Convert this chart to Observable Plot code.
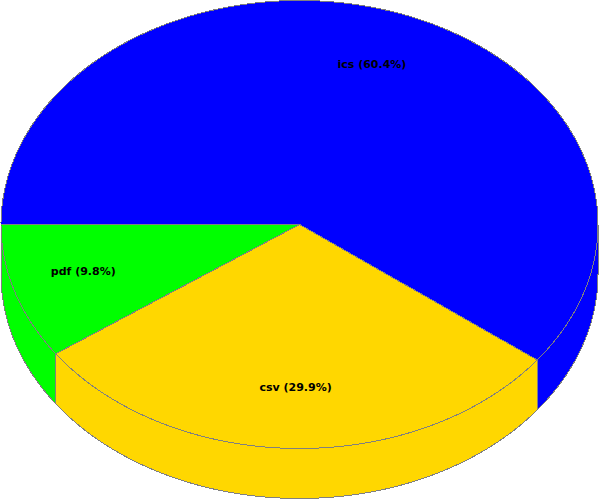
<!DOCTYPE html>
<html>
<head>
<meta charset="utf-8">
<script src="https://cdn.jsdelivr.net/npm/d3@7"></script>
<script src="https://cdn.jsdelivr.net/npm/@observablehq/plot@0.6"></script>
<style>
  html, body { margin: 0; padding: 0; background: #ffffff; }
  #chart svg { display: block; }
</style>
</head>
<body>
<div id="chart"></div>
<script>
// ---- data ----
const categories = ["ics", "csv", "pdf"];
const values = [60.4, 29.9, 9.8];
const sliceColors = ["#0000FF", "#FFD700", "#00FF00"];

// ---- geometry (layout) ----
const W = 600, H = 500;
const cx = 299, cy = 224, rx = 298.5, ry = 224, depth = 50;
const startAngle = 180; // degrees, going clockwise
const outline = "#808080";

const total = d3.sum(values);
const rad = d => d * Math.PI / 180;
const px = (t, r = 1) => cx + rx * r * Math.cos(rad(t));
const py = (t, r = 1, dz = 0) => cy - ry * r * Math.sin(rad(t)) + dz;

// slices: angle from a0 (start) down to a1 (clockwise = decreasing)
let acc = startAngle;
const slices = categories.map((name, i) => {
  const sweep = values[i] / total * 360;
  const s = { name, value: values[i], color: sliceColors[i], a0: acc, a1: acc - sweep };
  acc -= sweep;
  return s;
});

function arcPts(a0, a1, dz = 0) {
  const n = Math.max(2, Math.ceil(Math.abs(a0 - a1) / 0.5));
  const pts = [];
  for (let k = 0; k <= n; k++) {
    const t = a0 + (a1 - a0) * k / n;
    pts.push({ x: px(t), y: py(t, 1, dz) });
  }
  return pts;
}

const marks = [];

// front side faces (lower half of ellipse)
slices.forEach(s => {
  const ranges = [[-180, 0], [180, 360], [-540, -360]];
  ranges.forEach(([lo, hi]) => {
    const top = Math.min(s.a0, hi), bot = Math.max(s.a1, lo);
    if (top > bot) {
      const upper = arcPts(top, bot, 0);
      const lower = arcPts(bot, top, depth);
      marks.push(Plot.line(upper.concat(lower), {
        x: "x", y: "y", fill: s.color, stroke: outline, strokeWidth: 1,
        curve: "linear-closed", shapeRendering: "crispEdges"
      }));
    }
  });
});

// top faces
slices.forEach(s => {
  const pts = [{ x: cx, y: cy }].concat(arcPts(s.a0, s.a1, 0));
  marks.push(Plot.line(pts, {
    x: "x", y: "y", fill: s.color, stroke: outline, strokeWidth: 1,
    curve: "linear-closed", shapeRendering: "crispEdges"
  }));
});

// labels
const labels = slices.map(s => {
  const mid = (s.a0 + s.a1) / 2;
  return {
    x: px(mid, 0.76),
    y: py(mid, 0.74) - 3,
    text: `${s.name} (${s.value.toFixed(1)}%)`
  };
});
marks.push(Plot.text(labels, {
  x: "x", y: "y", text: "text", fill: "#000000",
  fontSize: 11, fontWeight: "bold", textAnchor: "middle"
}));

const chart = Plot.plot({
  width: W,
  height: H,
  margin: 0,
  x: { domain: [0, W], range: [0, W], axis: null },
  y: { domain: [0, H], range: [0, H], axis: null },
  style: { background: "#ffffff", fontFamily: "DejaVu Sans, sans-serif" },
  marks
});
document.getElementById("chart").appendChild(chart);
</script>
</body>
</html>
